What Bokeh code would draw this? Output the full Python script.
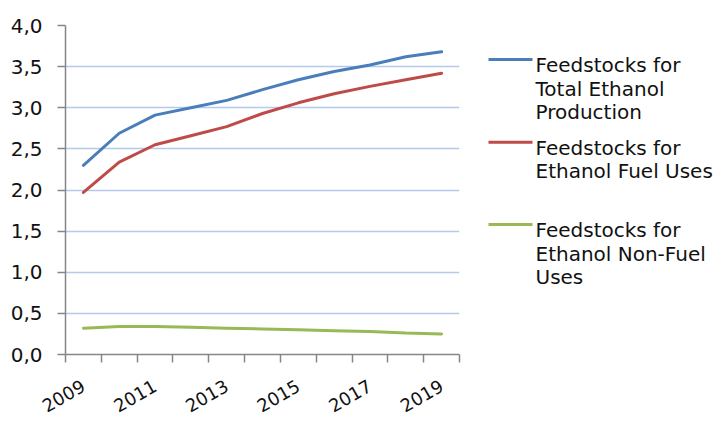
from bokeh.plotting import figure
from bokeh.models import Range1d, FixedTicker, CustomJSTickFormatter, ColumnDataSource
from bokeh.layouts import row
from bokeh.core.properties import value
from bokeh.embed import file_html
from bokeh.resources import INLINE

# ---- data ----
years = [2009, 2010, 2011, 2012, 2013, 2014, 2015, 2016, 2017, 2018, 2019]
total_ethanol = [2.30, 2.69, 2.91, 3.00, 3.09, 3.22, 3.34, 3.44, 3.52, 3.62, 3.68]
fuel_uses = [1.97, 2.34, 2.55, 2.66, 2.77, 2.93, 3.06, 3.17, 3.26, 3.34, 3.42]
non_fuel_uses = [0.32, 0.34, 0.34, 0.33, 0.32, 0.31, 0.30, 0.29, 0.28, 0.26, 0.25]
year_tick_labels = [2009, 2011, 2013, 2015, 2017, 2019]
y_ticks = [0.0, 0.5, 1.0, 1.5, 2.0, 2.5, 3.0, 3.5, 4.0]
series_labels = [
    "Feedstocks for\nTotal Ethanol\nProduction",
    "Feedstocks for\nEthanol Fuel Uses",
    "Feedstocks for\nEthanol Non-Fuel\nUses",
]
series_colors = ["#4A7EBB", "#BE4B48", "#98B954"]

FONT = "DejaVu Sans"
FS = "20px"
TXT = "#111111"
AXC = "#868686"

# ---- main chart ----
p = figure(width=470, height=421, output_backend="svg", toolbar_location=None,
           x_range=Range1d(years[0] - 0.5, years[-1] + 0.5), y_range=Range1d(0, 4),
           min_border_left=65, min_border_right=11, min_border_top=25, min_border_bottom=67)
p.outline_line_color = None
p.background_fill_color = "white"
p.border_fill_color = "white"

for ys, c in zip([total_ethanol, fuel_uses, non_fuel_uses], series_colors):
    p.line(years, ys, line_color=c, line_width=3, line_cap="round", line_join="round")

# x axis: tick marks at category boundaries, labels at every other year
p.xaxis.ticker = FixedTicker(ticks=year_tick_labels,
                             minor_ticks=[years[0] - 0.5 + i for i in range(len(years) + 1)])
p.xaxis.formatter = CustomJSTickFormatter(code="return tick.toFixed(0);")
p.xaxis.major_tick_out = 0
p.xaxis.major_tick_in = 0
p.xaxis.minor_tick_out = 8
p.xaxis.minor_tick_in = 0
p.xaxis.minor_tick_line_color = AXC
p.xaxis.minor_tick_line_width = 1.5
p.xaxis.axis_line_color = AXC
p.xaxis.axis_line_width = 1.5
p.xaxis.major_label_orientation = 0.52
p.xaxis.major_label_standoff = 22
p.xaxis.major_label_text_font = FONT
p.xaxis.major_label_text_font_size = "18px"
p.xaxis.major_label_text_color = TXT

# y axis
p.yaxis.ticker = FixedTicker(ticks=y_ticks, minor_ticks=[])
p.yaxis.formatter = CustomJSTickFormatter(code="return tick.toFixed(1).replace('.', ',');")
p.yaxis.major_tick_out = 8
p.yaxis.major_tick_in = 0
p.yaxis.major_tick_line_color = AXC
p.yaxis.major_tick_line_width = 1.5
p.yaxis.minor_tick_line_color = None
p.yaxis.axis_line_color = AXC
p.yaxis.axis_line_width = 1.5
p.yaxis.major_label_standoff = 15
p.yaxis.major_label_text_font = FONT
p.yaxis.major_label_text_font_size = FS
p.yaxis.major_label_text_color = TXT

p.xgrid.grid_line_color = None
p.ygrid.ticker = FixedTicker(ticks=y_ticks[1:])
p.ygrid.grid_line_color = "#b4caea"
p.ygrid.grid_line_width = 1.5

# ---- legend panel (pixel coordinates) ----
LW, LH = 253, 421
leg = figure(width=LW, height=LH, output_backend="svg", toolbar_location=None,
             x_range=Range1d(0, LW), y_range=Range1d(LH, 0),
             min_border=0, min_border_left=0, min_border_right=0,
             min_border_top=0, min_border_bottom=0)
leg.axis.visible = False
leg.grid.visible = False
leg.outline_line_color = None
leg.border_fill_color = "white"
leg.background_fill_color = "white"

entry_tops = [37, 143, 248]   # cap-top of first line of each entry
line_step = 29.8
xs, ys, ts = [], [], []
for label, top, c in zip(series_labels, entry_tops, series_colors):
    leg.segment(x0=[18], y0=[top + 6.5], x1=[62], y1=[top + 6.5], line_color=c, line_width=3)
    for i, t in enumerate(label.split("\n")):
        xs.append(65)
        ys.append(top + 14 + i * line_step)
        ts.append(t)
leg.text(x="x", y="y", text="t", source=ColumnDataSource(dict(x=xs, y=ys, t=ts)),
         text_font=value(FONT), text_font_size=FS, text_color=TXT,
         text_baseline="alphabetic", text_align="left")

layout = row(p, leg)
open("out.html", "w").write(file_html(layout, INLINE))
